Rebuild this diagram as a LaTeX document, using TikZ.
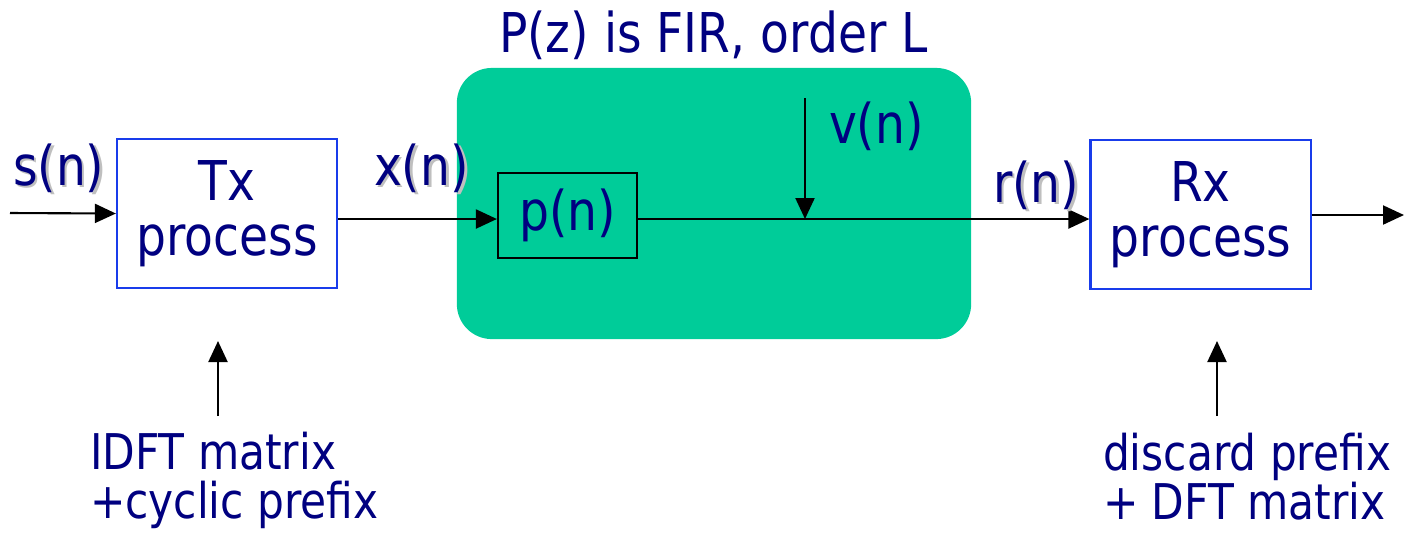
\documentclass[tikz,border=0pt]{standalone}
\usepackage{fontspec}
\setmainfont{DejaVu Sans}[FakeStretch=0.86]
\usepackage{tikz}
\usetikzlibrary{positioning,arrows.meta}
\definecolor{navy}{RGB}{0,0,128}
\definecolor{chgreen}{RGB}{0,204,153}
\definecolor{boxblue}{RGB}{25,60,235}
\newcommand{\shadowed}[1]{\makebox[0pt][l]{\hspace{0.8pt}\raisebox{-0.8pt}{\textcolor{black!25}{#1}}}#1}

\begin{document}
\begin{tikzpicture}[
            x=0.01cm, y=-0.01cm,
            line width=0.6pt,
            >={Triangle[length=0.21cm,width=0.19cm]},
            block/.style={draw=boxblue, minimum width=2.2cm, minimum height=1.49cm, align=center, text=navy, font=\fontsize{15.6}{15.6}\selectfont},
            lbl/.style={text=navy, inner sep=0pt, anchor=base west, font=\fontsize{15.6}{15.6}\selectfont},
            note/.style={text=navy, inner sep=0pt, anchor=base west, align=left, font=\fontsize{14}{13.9}\selectfont}
        ]
            \useasboundingbox (0,0) rectangle (1406,535);
            \node[fill=chgreen, rounded corners=0.35cm, minimum width=5.14cm, minimum height=2.71cm] (chan) at (714,203.5) {};
            \node[lbl] (title) at (498,52) {P(z) is FIR, order L};
            \node[block] (tx) at (227,213.5) {Tx\\process};
            \node[block] (rx) at (1200.5,214.5) {Rx\\process};
            \node[draw=black, minimum width=1.39cm, minimum height=0.85cm, text=navy, font=\fontsize{15.6}{15.6}\selectfont] (pn) at (567.5,215.5) {p(n)};
            \coordinate (sig) at (0,219);
            \coordinate (in) at (10,213);
            \coordinate (out) at (1404,215);
            \coordinate (noise) at (805,98);
            \coordinate (txctl) at (218,416);
            \coordinate (txtip) at (218,341);
            \coordinate (rxctl) at (1217,416);
            \coordinate (rxtip) at (1217,341);
            \draw[->] (in) -- (tx.west);
            \draw[->] (tx.east |- sig) -- (pn.west |- sig);
            \draw[->] (pn.east |- sig) -- (rx.west |- sig);
            \draw[->] (noise) -- (noise |- sig);
            \draw[->] (rx.east |- out) -- (out);
            \draw[->] (txctl) -- (txtip);
            \draw[->] (rxctl) -- (rxtip);
            \node[lbl] (sn) at (12,185) {\shadowed{s(n)}};
            \node[lbl] (xn) at (373,185) {\shadowed{x(n)}};
            \node[lbl] (rn) at (992,202) {\shadowed{r(n)}};
            \node[lbl] (vn) at (828,143) {v(n)};
            \node[note] (idft) at (89,518) {IDFT matrix\\+cyclic prefix};
            \node[note] (dft) at (1102,519) {discard prefix\\+ DFT matrix};
        \end{tikzpicture}
\end{document}
